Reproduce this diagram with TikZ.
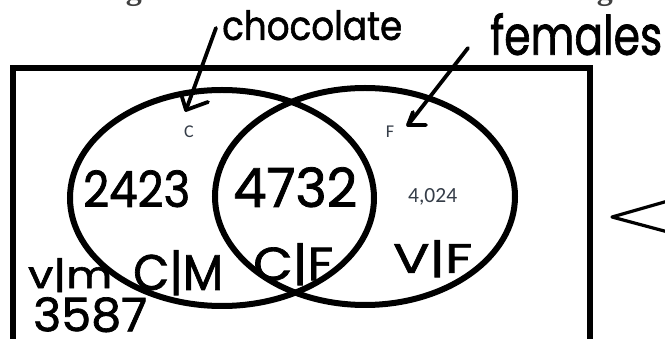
\documentclass[tikz,border=0pt]{standalone}
\usepackage{fontspec}
\usepackage{graphicx}
\setmainfont{Liberation Serif}
\newfontfamily\hand{Poppins}[FakeBold=1.5]
\newfontfamily\smallsans{Carlito}
\definecolor{lbl}{HTML}{353D48}
\begin{document}
\begin{tikzpicture}[x=1pt,y=-1pt,
  frame/.style={line width=6pt},
  setline/.style={line width=6pt},
  pen/.style={line width=3.8pt,line cap=round,line join=round},
  hw/.style={inner sep=0pt,anchor=north west},
  lab/.style={inner sep=0pt,text=lbl}]
\useasboundingbox (0,0) rectangle (665,339);
\clip (0,0) rectangle (665,339);
\fill[white] (0,0) rectangle (665,339);
% cut-off title
\node[inner sep=0pt,anchor=south west,text=black!75,font=\fontsize{32}{34}\selectfont\bfseries] (title) at (52,7)
  {3. Organize the same data in a Venn diagram};
% frame
\draw[frame] (13,345) -- (13,68) -- (590,68) -- (590,345);
% sets
\draw[setline] (222,198) ellipse [x radius=152, y radius=108];
\draw[setline] (365,196.5) ellipse [x radius=150, y radius=108.5];
% printed labels
\node[lab,font=\smallsans\fontsize{18}{19}\selectfont] (C) at (189,132) {C};
\node[lab,font=\smallsans\fontsize{18}{19}\selectfont] (F) at (390,132) {F};
\node[lab,anchor=north west,font=\smallsans] (nvf) at (408,188) {\resizebox{49pt}{14pt}{4,024}};
% handwritten labels
\node[hw] (choc) at (222,10) {\resizebox*{180pt}{30pt}{\hand chocolate}};
\node[hw] (fem) at (490,13) {\resizebox*{172pt}{42pt}{\hand females}};
\node[hw] (n1) at (83,170) {\resizebox*{107pt}{37pt}{\hand 2423}};
\node[hw] (n2) at (233,167) {\resizebox*{124pt}{40pt}{\hand 4732}};
\node[hw] (cm) at (133,250) {\resizebox*{90pt}{45pt}{\hand C|M}};
\node[hw] (vm) at (28,258) {\resizebox*{84pt}{34pt}{\hand v|m}};
\node[hw] (n3) at (33,297) {\resizebox*{114pt}{35pt}{\hand 3587}};
\node[hw] (cf) at (253,243) {\resizebox*{80pt}{42pt}{\hand C|F}};
\node[hw] (vf) at (393,240) {\resizebox*{79pt}{37pt}{\hand V|F}};
% arrows
\coordinate (ca) at (216,28);
\coordinate (ct) at (186,110);
\coordinate (cb1) at (182,97);
\coordinate (cb2) at (208,102);
\draw[pen] (ca) -- (ct);
\draw[pen] (cb1) -- (ct) -- (cb2);
\coordinate (fa) at (468,48);
\coordinate (ft) at (408,125);
\coordinate (fb1) at (413,112);
\coordinate (fb2) at (426,125);
\draw[pen] (fa) -- (ft);
\draw[pen] (fb1) -- (ft) -- (fb2);
% bracket
\coordinate (k1) at (668,201);
\coordinate (k0) at (612,217);
\coordinate (k2) at (668,232);
\draw[pen,line width=3.2pt] (k1) -- (k0) -- (k2);
\end{tikzpicture}
\end{document}
